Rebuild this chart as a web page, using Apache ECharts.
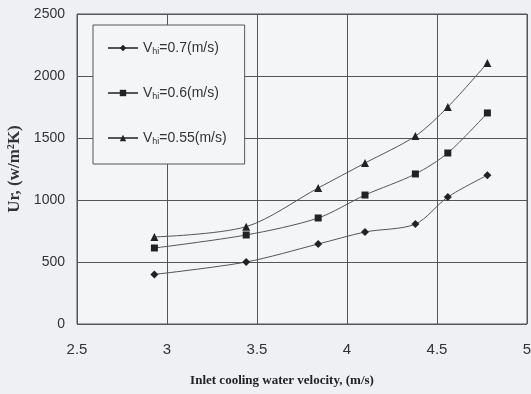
<!DOCTYPE html>
<html>
<head>
<meta charset="utf-8">
<script src="https://cdn.jsdelivr.net/npm/echarts@6/dist/echarts.min.js"></script>
<style>
  html, body { margin: 0; padding: 0; background: #eef0f4; }
  #main { width: 531px; height: 394px; }
</style>
</head>
<body>
<div id="main"></div>
<script>
  // inlet cooling water velocity (m/s)
  var velocity = [2.93, 3.44, 3.84, 4.10, 4.38, 4.56, 4.78];
  // Ur values, w/m2K
  var ur07 = [400, 500, 645, 742, 806, 1024, 1200];
  var ur06 = [613, 718, 855, 1040, 1210, 1379, 1702];
  var ur055 = [702, 785, 1097, 1298, 1516, 1750, 2105];
  var seriesNames = ['0.7', '0.6', '0.55'];
  var xTicks = {2.5: '2.5', 3: '3', 3.5: '3.5', 4: '4', 4.5: '4.5', 5: '5'};

  function pairs(ys) {
    return ys.map(function (y, i) { return [velocity[i], y]; });
  }

  var chart = echarts.init(document.getElementById('main'));
  var lineStyle = { color: '#555', width: 1 };
  var mark = { color: '#222' };

  var option = {
    backgroundColor: '#eef0f4',
    animation: false,
    grid: {
      left: 77, right: 4, top: 14, bottom: 70, outerBoundsMode: 'none',
      show: true, backgroundColor: '#f4f5f7', borderColor: '#555', borderWidth: 1
    },
    legend: {
      orient: 'vertical',
      left: 93, top: 25,
      padding: [16, 18, 18, 14],
      itemGap: 30,
      itemWidth: 30, itemHeight: 8,
      borderColor: '#555', borderWidth: 1,
      backgroundColor: '#f4f5f7',
      textStyle: {
        fontFamily: 'Liberation Sans', fontSize: 14, color: '#333',
        rich: {
          a: { fontFamily: 'Liberation Sans', fontSize: 14, color: '#333' },
          s: { fontFamily: 'Liberation Sans', fontSize: 9, color: '#333', verticalAlign: 'bottom', padding: [7, 0, 0, 0] }
        }
      },
      formatter: function (name) {
        return '{a|V}{s|hi}{a|=' + name + '(m/s)}';
      },
      data: seriesNames
    },
    xAxis: {
      type: 'value', min: 2.5, max: 5, interval: 0.5,
      name: 'Inlet cooling water velocity, (m/s)',
      nameLocation: 'middle', nameGap: 50,
      nameTextStyle: { fontFamily: 'Liberation Serif', fontWeight: 'bold', fontSize: 13, color: '#222', padding: [0, 40, 0, 0] },
      axisLine: { show: false },
      axisTick: { show: false },
      splitLine: { lineStyle: { color: '#555', width: 1 } },
      axisLabel: {
        margin: 18, fontFamily: 'Liberation Sans', fontSize: 15, color: '#333',
        formatter: function (v) { return xTicks[v]; }
      }
    },
    yAxis: {
      type: 'value', min: 0, max: 2500, interval: 500,
      name: 'Ur, (w/m\u00b2K)',
      nameLocation: 'middle', nameGap: 52, nameRotate: 90,
      nameTextStyle: { fontFamily: 'Liberation Serif', fontWeight: 'bold', fontSize: 17, color: '#333' },
      axisLine: { show: false },
      axisTick: { show: false },
      splitLine: { lineStyle: { color: '#555', width: 1 } },
      axisLabel: {
        margin: 12, fontFamily: 'Liberation Sans', fontSize: 14, color: '#333',
        formatter: function (v) { return String(v); }
      }
    },
    series: [
      { name: '0.7', type: 'line', smooth: 0.3, data: pairs(ur07), symbol: 'diamond', symbolSize: 8, lineStyle: lineStyle, itemStyle: mark },
      { name: '0.6', type: 'line', smooth: 0.3, data: pairs(ur06), symbol: 'rect', symbolSize: 7, lineStyle: lineStyle, itemStyle: mark },
      { name: '0.55', type: 'line', smooth: 0.3, data: pairs(ur055), symbol: 'triangle', symbolSize: 8, lineStyle: lineStyle, itemStyle: mark }
    ]
  };
  chart.setOption(option);
</script>
</body>
</html>
